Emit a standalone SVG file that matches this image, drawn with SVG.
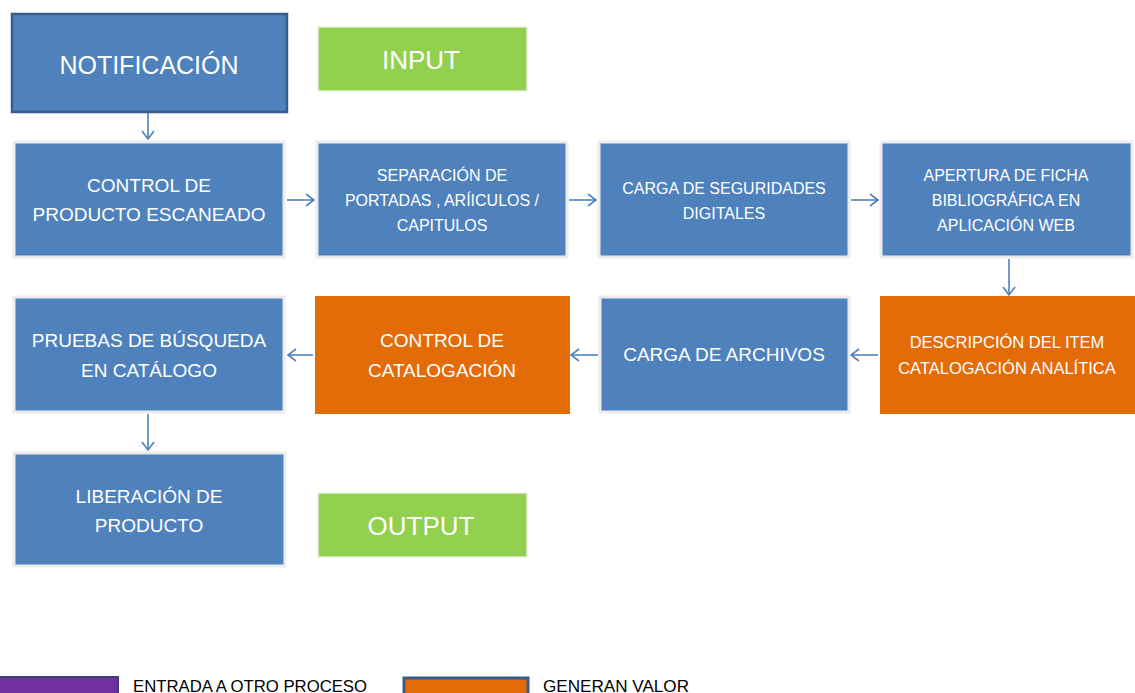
<svg xmlns="http://www.w3.org/2000/svg" width="1135" height="693" viewBox="0 0 1135 693">
<style>
.b{fill:#4f81bd;stroke:#ececec;stroke-width:3}
.o{fill:#e36c09;stroke:#ececec;stroke-width:3}
.g{fill:#92d050;stroke:#e6f3d6;stroke-width:1.5}
text{font-family:"Liberation Sans",Arial,sans-serif;fill:#fff;text-anchor:middle}
.t19{font-size:19px}
.t16{font-size:16px}
.t25{font-size:25px}
.lg{font-size:16.5px;fill:#000;text-anchor:start}
.c{stroke:#4f81bd;stroke-width:1.6;fill:none}
</style>
<defs>
<marker id="ah" markerWidth="12" markerHeight="14" refX="10" refY="7" orient="auto" markerUnits="userSpaceOnUse">
<path d="M2,1 L10,7 L2,13" fill="none" stroke="#4f81bd" stroke-width="1.6"/>
</marker>
</defs>
<g id="connectors">
<path class="c" d="M148,113 V139" marker-end="url(#ah)"/>
<path class="c" d="M287,200 H314" marker-end="url(#ah)"/>
<path class="c" d="M569,200 H596" marker-end="url(#ah)"/>
<path class="c" d="M851,200 H878" marker-end="url(#ah)"/>
<path class="c" d="M1009,259 V295" marker-end="url(#ah)"/>
<path class="c" d="M878,355 H851" marker-end="url(#ah)"/>
<path class="c" d="M598,355 H571" marker-end="url(#ah)"/>
<path class="c" d="M313,355 H288" marker-end="url(#ah)"/>
<path class="c" d="M148,414 V450" marker-end="url(#ah)"/>
</g>
<g id="notificacion">
<rect x="12" y="14" width="275" height="98" fill="#4f81bd" stroke="#385d8a" stroke-width="2.5"/>
<text class="t25" x="149" y="74">NOTIFICACIÓN</text>
</g>
<g id="input">
<rect class="g" x="318" y="27" width="209" height="64"/>
<text x="421" y="69" style="font-size:26px">INPUT</text>
</g>
<g id="control-producto">
<rect class="b" x="14" y="142" width="270" height="115"/>
<text class="t19" x="149" y="192">CONTROL  DE</text>
<text class="t19" x="149" y="221">PRODUCTO ESCANEADO</text>
</g>
<g id="separacion">
<rect class="b" x="317" y="142" width="250" height="115"/>
<text class="t16" x="442" y="181">SEPARACIÓN DE</text>
<text class="t16" x="442" y="206">PORTADAS , ARÍICULOS /</text>
<text class="t16" x="442" y="231">CAPITULOS</text>
</g>
<g id="carga-seguridades">
<rect class="b" x="599" y="142" width="250" height="115"/>
<text class="t16" x="724" y="194">CARGA DE SEGURIDADES</text>
<text class="t16" x="724" y="219">DIGITALES</text>
</g>
<g id="apertura">
<rect class="b" x="881" y="142" width="251" height="115"/>
<text class="t16" x="1006" y="181">APERTURA DE FICHA</text>
<text class="t16" x="1006" y="206">BIBLIOGRÁFICA EN</text>
<text class="t16" x="1006" y="231">APLICACIÓN WEB</text>
</g>
<g id="descripcion">
<rect x="880" y="296" width="256" height="118" fill="#e36c09"/>
<text x="1007" y="348" style="font-size:16.5px">DESCRIPCIÓN DEL ITEM</text>
<text x="1007" y="374" style="font-size:16.5px">CATALOGACIÓN ANALÍTICA</text>
</g>
<g id="carga-archivos">
<rect class="b" x="600" y="297" width="249" height="115"/>
<text class="t19" x="724" y="361">CARGA DE ARCHIVOS</text>
</g>
<g id="control-catalogacion">
<rect x="315" y="296" width="255" height="118" fill="#e36c09"/>
<text class="t19" x="442" y="347">CONTROL DE</text>
<text class="t19" x="442" y="377">CATALOGACIÓN</text>
</g>
<g id="pruebas">
<rect class="b" x="14" y="297" width="270" height="115"/>
<text class="t19" x="149" y="347">PRUEBAS DE  BÚSQUEDA</text>
<text class="t19" x="149" y="377">EN CATÁLOGO</text>
</g>
<g id="liberacion">
<rect class="b" x="14" y="453" width="271" height="113"/>
<text class="t19" x="149" y="503">LIBERACIÓN DE</text>
<text class="t19" x="149" y="532">PRODUCTO</text>
</g>
<g id="output">
<rect class="g" x="318" y="493" width="209" height="64"/>
<text x="421" y="535" style="font-size:26px">OUTPUT</text>
</g>
<g id="legend">
<rect x="-2" y="677" width="120" height="24" fill="#7030a0" stroke="#3b3f7a" stroke-width="2"/>
<text class="lg" x="133" y="692" textLength="234" lengthAdjust="spacingAndGlyphs">ENTRADA A OTRO PROCESO</text>
<rect x="404" y="678" width="124" height="24" fill="#e36c09" stroke="#385d8a" stroke-width="3"/>
<text class="lg" x="543" y="692" textLength="146" lengthAdjust="spacingAndGlyphs">GENERAN VALOR</text>
</g>
</svg>
